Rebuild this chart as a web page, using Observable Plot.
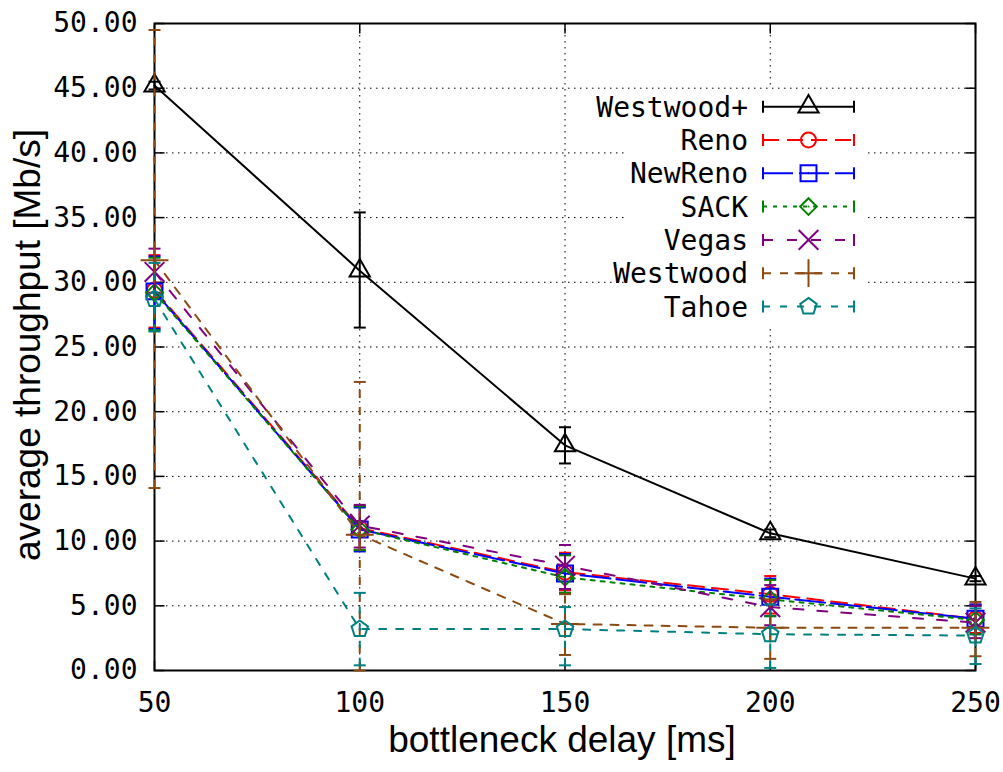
<!DOCTYPE html>
<html><head><meta charset="utf-8">
<script src="https://cdn.jsdelivr.net/npm/d3@7"></script>
<script src="https://cdn.jsdelivr.net/npm/@observablehq/plot@0.6"></script>
<style>body{margin:0;background:#fff} svg{display:block}</style>
</head><body><div id="chart"></div>
<script>
const delays = [50, 100, 150, 200, 250];
const xTicks = [50, 100, 150, 200, 250];
const yTicks = [0, 5, 10, 15, 20, 25, 30, 35, 40, 45, 50];
const xTitle = "bottleneck delay [ms]";
const yTitle = "average throughput [Mb/s]";

const westwoodPlus     = [45.2, 30.9, 17.4, 10.6, 7.1];
const westwoodPlusLow  = [44.9, 26.5, 16.0, 10.3, 6.9];
const westwoodPlusHigh = [45.5, 35.4, 18.8, 10.9, 7.3];
const reno     = [29.4, 11.0, 7.6, 5.9, 4.0];
const renoLow  = [26.5, 9.3, 6.2, 4.4, 2.9];
const renoHigh = [32.1, 12.7, 9.1, 7.3, 5.1];
const newReno     = [29.3, 10.9, 7.5, 5.7, 4.0];
const newRenoLow  = [26.4, 9.2, 6.0, 4.2, 2.8];
const newRenoHigh = [32.0, 12.6, 9.0, 7.1, 5.1];
const sack     = [29.2, 10.9, 7.2, 5.5, 3.9];
const sackLow  = [26.3, 9.3, 6.0, 4.2, 2.8];
const sackHigh = [31.9, 12.7, 8.9, 7.0, 5.0];
const vegas     = [30.8, 11.2, 8.1, 4.9, 3.7];
const vegasLow  = [29.2, 9.5, 6.3, 3.5, 2.5];
const vegasHigh = [32.6, 12.8, 9.7, 6.6, 5.0];
const westwood     = [31.7, 10.5, 3.6, 3.3, 3.3];
const westwoodLow  = [14.1, 0.0, 1.2, 0.9, 1.1];
const westwoodHigh = [49.5, 22.3, 5.9, 5.5, 5.3];
const tahoe     = [28.7, 3.2, 3.2, 2.8, 2.7];
const tahoeLow  = [26.2, 0.4, 0.4, 0.2, 0.5];
const tahoeHigh = [31.5, 6.0, 4.9, 5.1, 4.8];

const pentagon = {draw(ctx, size) {
  const R = Math.sqrt(size / Math.PI) * 1.15;
  for (let k = 0; k < 5; k++) {
    const a = -Math.PI / 2 + k * 2 * Math.PI / 5;
    const px = R * Math.cos(a), py = R * Math.sin(a);
    if (k) ctx.lineTo(px, py); else ctx.moveTo(px, py);
  }
  ctx.closePath();
}};
const capSym = {draw(ctx) { ctx.moveTo(-6, 0); ctx.lineTo(6, 0); }};
const tickLeft = {draw(ctx) { ctx.moveTo(0, 0); ctx.lineTo(10, 0); }};
const tickRight = {draw(ctx) { ctx.moveTo(0, 0); ctx.lineTo(-10, 0); }};
const tickBottom = {draw(ctx) { ctx.moveTo(0, 0); ctx.lineTo(0, -10); }};
const tickTop = {draw(ctx) { ctx.moveTo(0, 0); ctx.lineTo(0, 10); }};

const series = [
  {name: "Westwood+", v: westwoodPlus, lo: westwoodPlusLow, hi: westwoodPlusHigh, color: "#000000", dash: null, symbol: d3.symbolTriangle, r: 7.5},
  {name: "Reno", v: reno, lo: renoLow, hi: renoHigh, color: "#ff0000", dash: "16,8", symbol: d3.symbolCircle, r: 7.5},
  {name: "NewReno", v: newReno, lo: newRenoLow, hi: newRenoHigh, color: "#0000ff", dash: "30,6", symbol: d3.symbolSquare, r: 9, center: true},
  {name: "SACK", v: sack, lo: sackLow, hi: sackHigh, color: "#008000", dash: "4,6", symbol: d3.symbolDiamond2, r: 7.5, center: true},
  {name: "Vegas", v: vegas, lo: vegasLow, hi: vegasHigh, color: "#800080", dash: "10,14", symbol: d3.symbolTimes, r: 9},
  {name: "Westwood", v: westwood, lo: westwoodLow, hi: westwoodHigh, color: "#8b4a12", dash: "8,9", symbol: d3.symbolPlus, r: 9},
  {name: "Tahoe", v: tahoe, lo: tahoeLow, hi: tahoeHigh, color: "#008080", dash: "7,10", symbol: pentagon, r: 7.5}
];

const marks = [
  Plot.gridY(yTicks, {stroke: "black", strokeOpacity: 1, strokeWidth: 1, strokeDasharray: "1.5,4.5"}),
  Plot.gridX(xTicks, {stroke: "black", strokeOpacity: 1, strokeWidth: 1, strokeDasharray: "1.5,4.5"}),
  Plot.frame({stroke: "black", strokeWidth: 2}),
  Plot.dot(yTicks, {y: d => d, frameAnchor: "left", symbol: tickLeft, stroke: "black", fill: "none", strokeWidth: 1.5}),
  Plot.dot(yTicks, {y: d => d, frameAnchor: "right", symbol: tickRight, stroke: "black", fill: "none", strokeWidth: 1.5}),
  Plot.dot(xTicks, {x: d => d, frameAnchor: "bottom", symbol: tickBottom, stroke: "black", fill: "none", strokeWidth: 1.5}),
  Plot.dot(xTicks, {x: d => d, frameAnchor: "top", symbol: tickTop, stroke: "black", fill: "none", strokeWidth: 1.5}),
  Plot.axisY(yTicks, {anchor: "left", tickSize: 0, tickPadding: 17, tickFormat: d => d.toFixed(2), label: null}),
  Plot.axisX(xTicks, {anchor: "bottom", tickSize: 0, tickPadding: 22, label: null})
];

for (const s of series) {
  const rows = delays.map((x, i) => ({x, y: s.v[i], lo: s.lo[i], hi: s.hi[i]}));
  const common = {stroke: s.color, strokeWidth: 2};
  if (s.dash) common.strokeDasharray = s.dash;
  marks.push(Plot.ruleX(rows, {x: "x", y1: "lo", y2: "hi", ...common}));
  marks.push(Plot.dot(rows, {x: "x", y: "lo", symbol: capSym, fill: "none", stroke: s.color, strokeWidth: 2}));
  marks.push(Plot.dot(rows, {x: "x", y: "hi", symbol: capSym, fill: "none", stroke: s.color, strokeWidth: 2}));
  marks.push(Plot.line(rows, {x: "x", y: "y", ...common}));
  marks.push(Plot.dot(rows, {x: "x", y: "y", symbol: s.symbol, r: s.r, fill: "none", stroke: s.color, strokeWidth: 2}));
  if (s.center) marks.push(Plot.dot(rows, {x: "x", y: "y", r: 1, fill: s.color, stroke: "none"}));
}

const chart = Plot.plot({
  width: 1003,
  height: 772,
  marginLeft: 154,
  marginRight: 28,
  marginTop: 23,
  marginBottom: 102,
  x: {domain: [50, 250]},
  y: {domain: [0, 50]},
  style: {fontFamily: "'DejaVu Sans Mono', monospace", fontSize: "28px", background: "white", color: "black"},
  marks
});
document.getElementById("chart").append(chart);

const svg = d3.select(chart);
const titleFont = "'Liberation Sans', Arial, sans-serif";
svg.append("text").attr("x", 562).attr("y", 752).attr("text-anchor", "middle")
  .attr("font-family", titleFont).attr("font-size", 37).attr("fill", "black").text(xTitle);
svg.append("text").attr("transform", "translate(40,345) rotate(-90)").attr("text-anchor", "middle")
  .attr("font-family", titleFont).attr("font-size", 37).attr("fill", "black").text(yTitle);

// legend (key) inside the plot area
const lg = svg.append("g");
lg.append("rect").attr("x", 628).attr("y", 89).attr("width", 240).attr("height", 236).attr("fill", "white");
series.forEach((s, i) => {
  const cy = 106.7 + i * 33.3;
  lg.append("text").attr("x", 748).attr("y", cy + 10).attr("text-anchor", "end")
    .attr("font-family", "'DejaVu Sans Mono', monospace").attr("font-size", 28).attr("fill", "black").text(s.name);
  const l = lg.append("line").attr("x1", 763).attr("x2", 854).attr("y1", cy).attr("y2", cy)
    .attr("stroke", s.color).attr("stroke-width", 2);
  if (s.dash) l.attr("stroke-dasharray", s.dash);
  for (const ex of [763, 854]) {
    lg.append("line").attr("x1", ex).attr("x2", ex).attr("y1", cy - 6).attr("y2", cy + 6)
      .attr("stroke", s.color).attr("stroke-width", 2);
  }
  lg.append("path").attr("transform", `translate(808.5,${cy})`)
    .attr("d", d3.symbol(s.symbol, s.r * s.r * Math.PI)())
    .attr("fill", "none").attr("stroke", s.color).attr("stroke-width", 2);
  if (s.center) lg.append("circle").attr("cx", 808.5).attr("cy", cy).attr("r", 1).attr("fill", s.color);
});
</script>
</body></html>
